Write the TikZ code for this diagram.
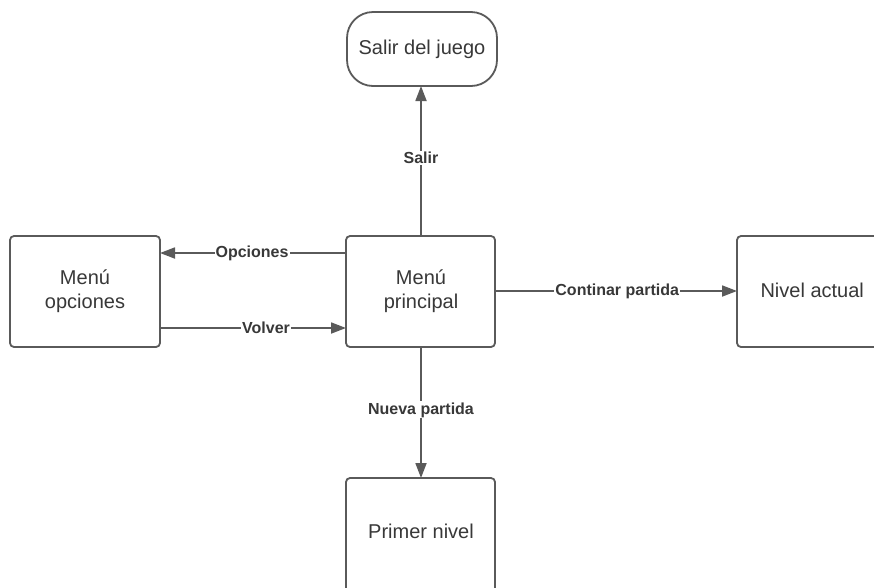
\documentclass[tikz,border=0pt]{standalone}
\usepackage{fontspec}
\setmainfont{Liberation Sans}
\usetikzlibrary{arrows.meta}
\definecolor{edge}{HTML}{5A5A5A}
\definecolor{ink}{HTML}{383838}
\tikzset{
  box/.style={draw=edge, line width=1.8pt, rounded corners=4pt, fill=white},
  boxtext/.style={text=ink, font=\fontsize{20}{24}\selectfont, align=center},
  link/.style={draw=edge, line width=1.8pt, -{Triangle[length=15pt,width=11pt]}},
  lbl/.style={fill=white, text=ink, font=\fontsize{16}{18}\selectfont\bfseries, inner sep=1pt}
}
\begin{document}
\begin{tikzpicture}[x=1pt, y=-1pt]
  \useasboundingbox (0,0) rectangle (874,587);
  \clip (0,0) rectangle (874,587);
  \fill[white] (0,0) rectangle (874,587);

  % boxes
  \draw[box, rounded corners=26pt] (347,12) rectangle (497,86);
  \coordinate (salir) at (422,49);
  \draw[box] (10,236) rectangle (160,347);
  \coordinate (opc) at (85,291);
  \draw[box] (346,236) rectangle (495,347);
  \coordinate (mp) at (421,291);
  \draw[box] (737,236) rectangle (890,347);
  \coordinate (niv) at (812,291);
  \draw[box] (346,478) rectangle (495,600);
  \coordinate (pn) at (421,531);

  \node[boxtext] (salirT) at (salir) {Salir del juego};
  \node[boxtext] (opcT) at (opc) {Menú\\opciones};
  \node[boxtext] (mpT) at (mp) {Menú\\principal};
  \node[boxtext, anchor=west] (nivT) at (757,290) {Nivel actual};
  \node[boxtext] (pnT) at (pn) {Primer nivel};

  % anchor points on box borders
  \coordinate (mpTop) at (421,236);
  \coordinate (salirBot) at (421,86);
  \coordinate (mpL1) at (346,253);
  \coordinate (opcR1) at (160,253);
  \coordinate (opcR2) at (160,328);
  \coordinate (mpL2) at (346,328);
  \coordinate (mpR) at (495,291);
  \coordinate (nivL) at (737,291);
  \coordinate (mpBot) at (421,347);
  \coordinate (pnTop) at (421,478);

  % connectors
  \draw[link] (mpTop) -- (salirBot) node[lbl, pos=0.52] (l1) {Salir};
  \draw[link] (mpL1) -- (opcR1) node[lbl, pos=0.505] (l2) {Opciones};
  \draw[link] (opcR2) -- (mpL2) node[lbl, pos=0.57] (l3) {Volver};
  \draw[link] (mpR) -- (nivL) node[lbl, pos=0.505] (l4) {Continar partida};
  \draw[link] (mpBot) -- (pnTop) node[lbl, pos=0.48] (l5) {Nueva partida};
\end{tikzpicture}
\end{document}
